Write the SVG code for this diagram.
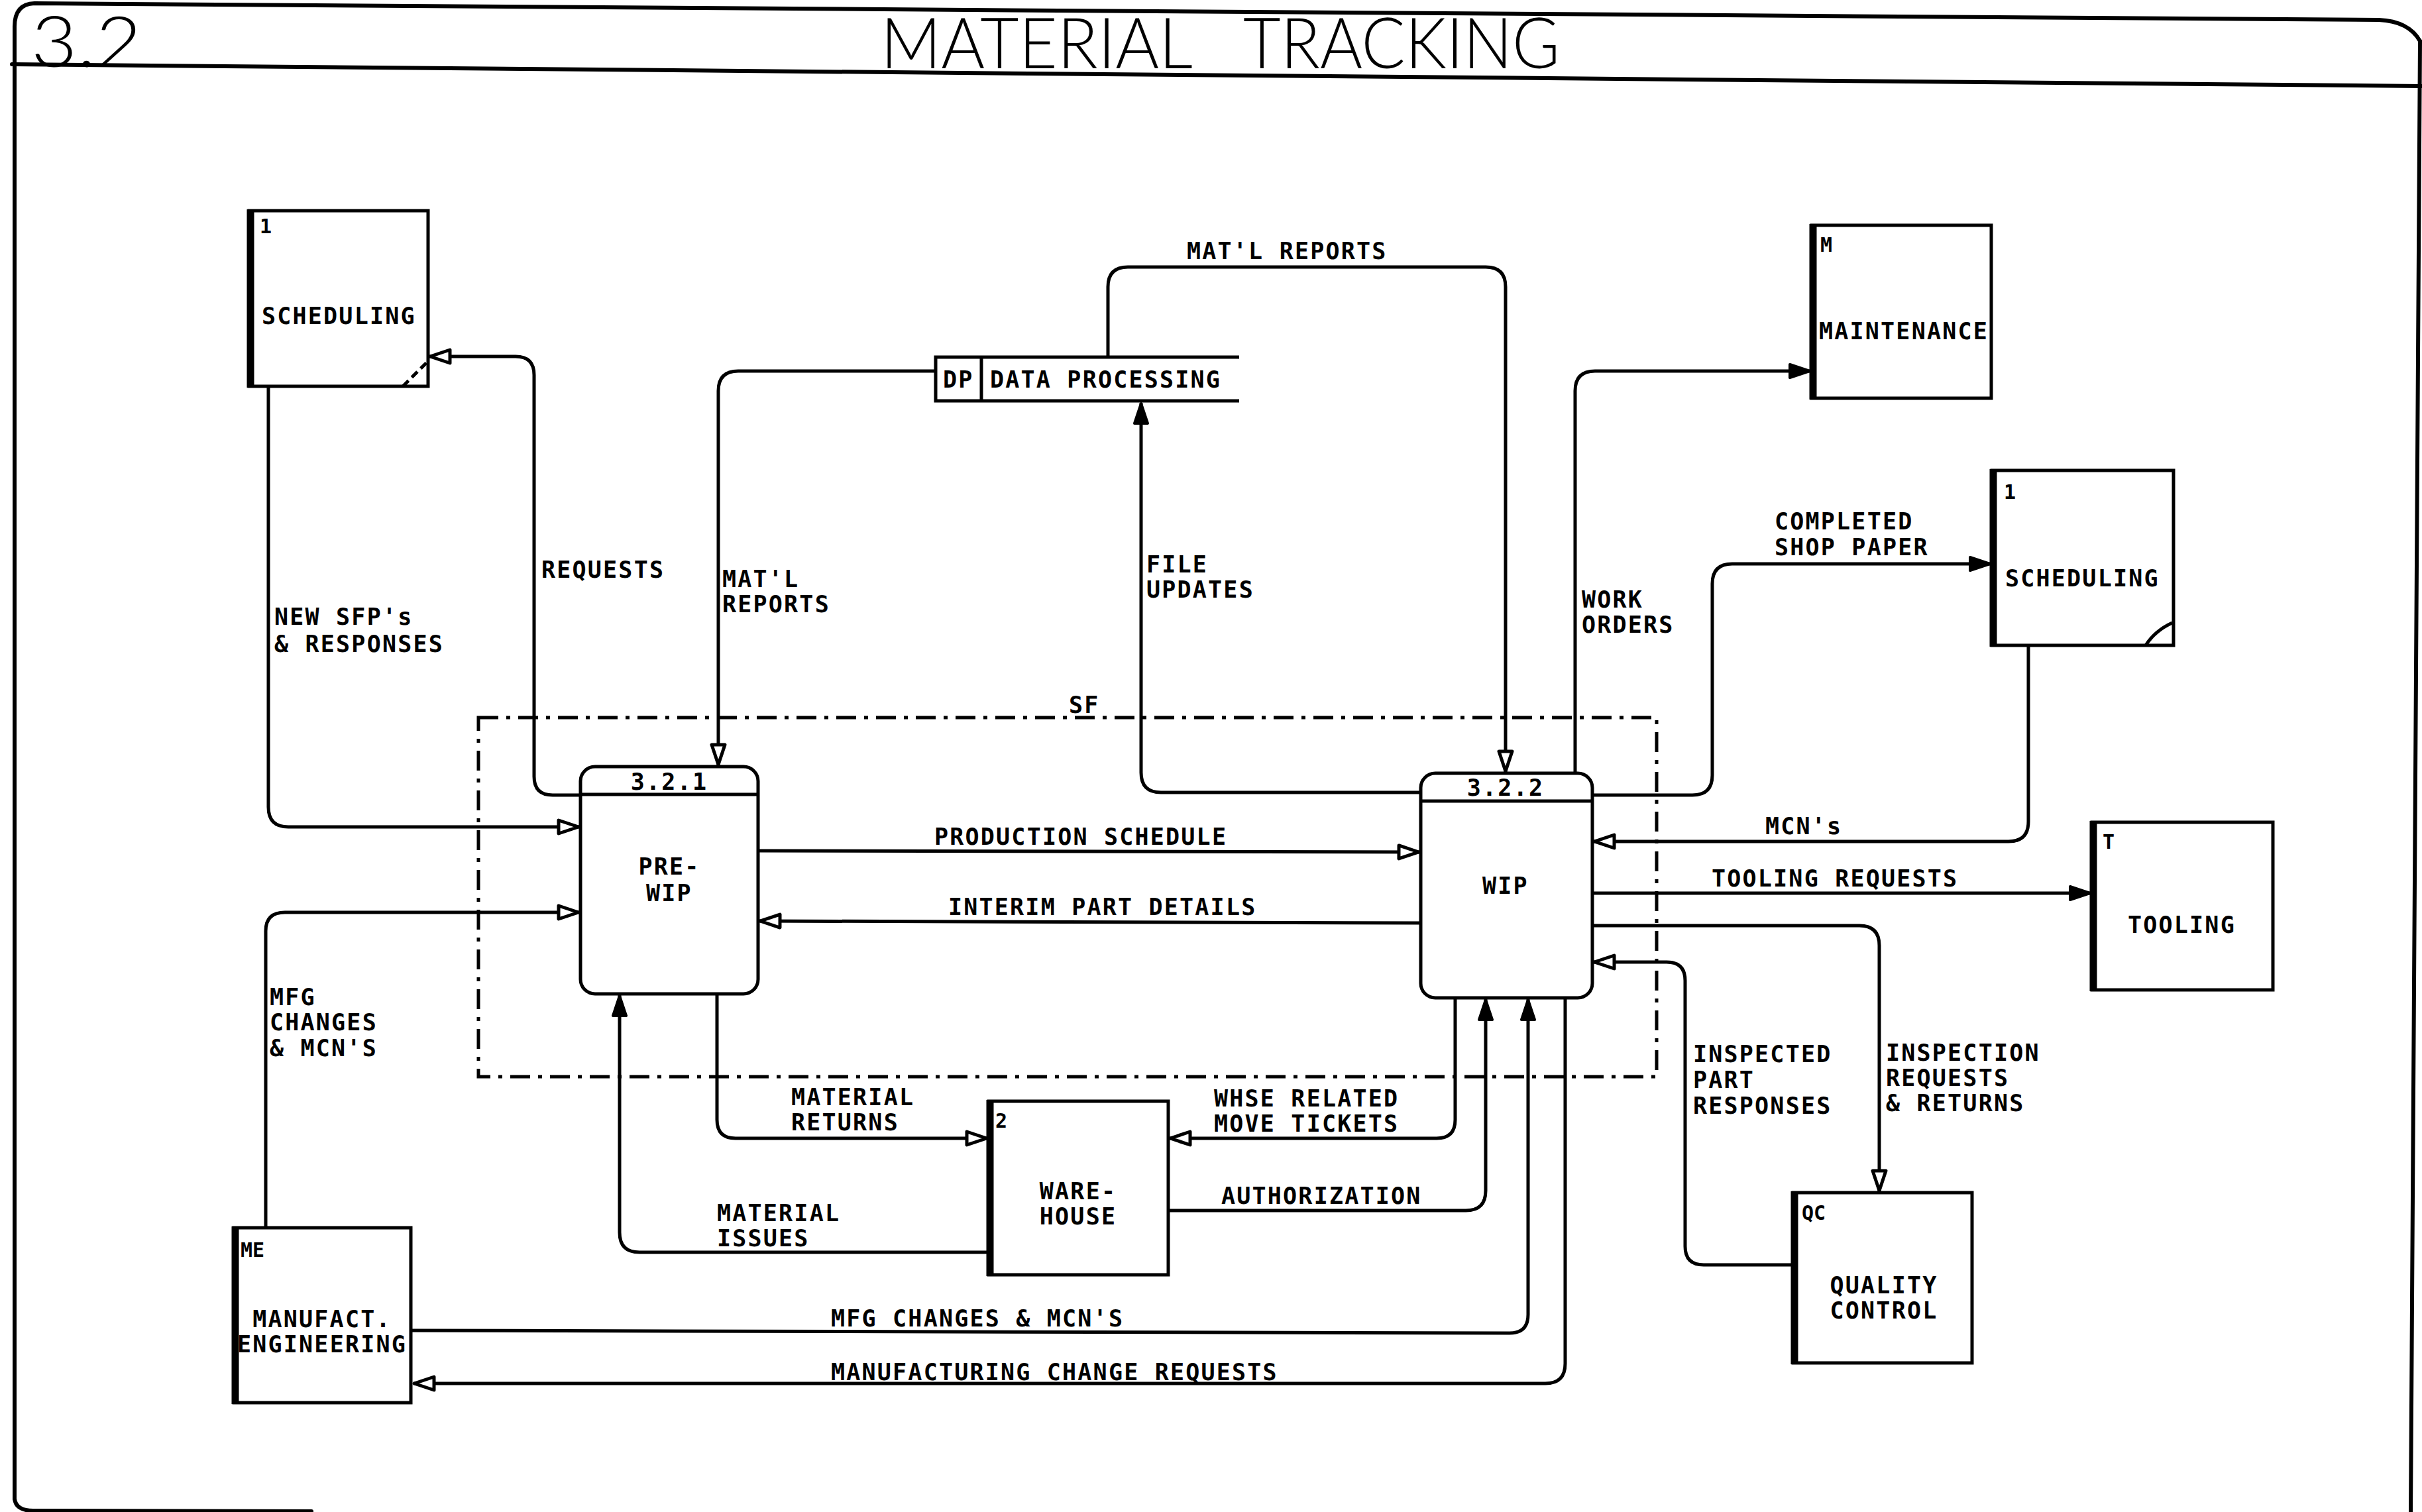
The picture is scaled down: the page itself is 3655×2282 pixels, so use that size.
<svg xmlns="http://www.w3.org/2000/svg" width="3655" height="2282" viewBox="0 0 3655 2282">
<style>
  .frame { fill: none; stroke: #000; stroke-width: 6; stroke-linecap: round; stroke-linejoin: round; }
  .box { fill: #fff; stroke: #000; stroke-width: 5; }
  .thick { stroke: #000; stroke-width: 11; fill: none; }
  .line { fill: none; stroke: #000; stroke-width: 5; }
  .conn { fill: none; stroke: #000; stroke-width: 5; stroke-linejoin: round; }
  .open { marker-end: url(#arrOpen); }
  .fill { marker-end: url(#arrFill); }
  .sf { fill: none; stroke: #000; stroke-width: 5; stroke-dasharray: 30 12 6 12; }
  .lbl { font-family: "DejaVu Sans Mono", "Liberation Mono", monospace; font-size: 35px; letter-spacing: 2.2px; font-weight: bold; fill: #000; }
  .id { font-family: "DejaVu Sans Mono", "Liberation Mono", monospace; font-size: 30px; font-weight: bold; fill: #000; }
  .mid { text-anchor: middle; }
  .title { font-family: "Lato", "Open Sans", "DejaVu Sans", sans-serif; font-weight: 300; font-size: 106px; fill: #000; }
</style>
<defs>
  <marker id="arrOpen" markerUnits="userSpaceOnUse" markerWidth="36" markerHeight="26" viewBox="0 0 36 26" refX="34" refY="13" orient="auto">
    <path d="M3,3 L33,13 L3,23 Z" fill="#fff" stroke="#000" stroke-width="5" stroke-linejoin="round"/>
  </marker>
  <marker id="arrFill" markerUnits="userSpaceOnUse" markerWidth="36" markerHeight="26" viewBox="0 0 36 26" refX="34" refY="13" orient="auto">
    <path d="M3,3 L33,13 L3,23 Z" fill="#000" stroke="#000" stroke-width="4" stroke-linejoin="round"/>
  </marker>
</defs>
<rect x="0" y="0" width="3655" height="2282" fill="#fff"/>

<!-- frame -->
<g id="frame">
  <path class="frame" d="M22,2262 L22,40 Q22,6 52,5 L3590,30 Q3635,32 3652,62"/>
  <path class="frame" d="M3652,62 L3638,2282"/>
  <path class="frame" d="M22,2262 Q24,2280 50,2280 L470,2281"/>
  <path class="frame" d="M18,97 L3655,130"/>
  <text class="title" x="47" y="101" textLength="167" lengthAdjust="spacingAndGlyphs">3.2</text>
  <text class="title" y="103"><tspan x="1329" textLength="471" lengthAdjust="spacingAndGlyphs">MATERIAL</tspan><tspan x="1876" textLength="478" lengthAdjust="spacingAndGlyphs">TRACKING</tspan></text>
</g>

<!-- SF boundary -->
<g id="sf-boundary">
  <rect class="sf" x="722" y="1083" width="1778" height="542"/>
  <text class="lbl" x="1613" y="1076">SF</text>
</g>

<!-- connectors -->
<g id="connectors">
  <path class="conn open" d="M876,1200 L834,1200 Q806,1200 806,1172 L806,566 Q806,538 778,538 L648,538"/>
  <path class="conn open" d="M405,583 L405,1218 Q405,1248 435,1248 L874,1248"/>
  <path class="conn open" d="M401,1853 L401,1405 Q401,1377 430,1377 L874,1377"/>
  <path class="conn open" d="M1412,560 L1114,560 Q1084,560 1084,590 L1084,1155"/>
  <path class="conn open" d="M1672,539 L1672,433 Q1672,403 1702,403 L2242,403 Q2272,403 2272,433 L2272,1165"/>
  <path class="conn fill" d="M2144,1196 L1752,1196 Q1722,1196 1722,1166 L1722,608"/>
  <path class="conn open" d="M1146,1284 L2142,1286"/>
  <path class="conn open" d="M2142,1393 L1146,1390"/>
  <path class="conn fill" d="M2377,1167 L2377,590 Q2377,560 2407,560 L2732,560"/>
  <path class="conn fill" d="M2403,1200 L2554,1200 Q2584,1200 2584,1170 L2584,881 Q2584,851 2614,851 L3004,851"/>
  <path class="conn open" d="M3061,974 L3061,1240 Q3061,1270 3031,1270 L2405,1270"/>
  <path class="conn fill" d="M2403,1348 L3155,1348"/>
  <path class="conn open" d="M2403,1397 L2806,1397 Q2836,1397 2836,1427 L2836,1798"/>
  <path class="conn open" d="M2706,1909 L2571,1909 Q2543,1909 2543,1881 L2543,1480 Q2543,1452 2515,1452 L2405,1452"/>
  <path class="conn open" d="M1082,1500 L1082,1690 Q1082,1718 1110,1718 L1490,1718"/>
  <path class="conn fill" d="M1492,1890 L965,1890 Q935,1890 935,1860 L935,1502"/>
  <path class="conn open" d="M2196,1506 L2196,1690 Q2196,1718 2168,1718 L1765,1718"/>
  <path class="conn fill" d="M1765,1827 L2212,1827 Q2242,1827 2242,1797 L2242,1508"/>
  <path class="conn fill" d="M622,2008 L2278,2012 Q2306,2012 2306,1984 L2306,1508"/>
  <path class="conn open" d="M2362,1506 L2362,2058 Q2362,2088 2332,2088 L624,2088"/>

  <text class="lbl"><tspan x="414" y="943">NEW SFP's</tspan><tspan x="414" y="984">&amp; RESPONSES</tspan></text>
  <text class="lbl" x="817" y="872">REQUESTS</text>
  <text class="lbl"><tspan x="1090" y="886">MAT'L</tspan><tspan x="1090" y="924">REPORTS</tspan></text>
  <text class="lbl" x="1791" y="391">MAT'L REPORTS</text>
  <text class="lbl"><tspan x="1730" y="864">FILE</tspan><tspan x="1730" y="902">UPDATES</tspan></text>
  <text class="lbl"><tspan x="2387" y="917">WORK</tspan><tspan x="2387" y="955">ORDERS</tspan></text>
  <text class="lbl"><tspan x="2678" y="799">COMPLETED</tspan><tspan x="2678" y="838">SHOP PAPER</tspan></text>
  <text class="lbl" x="2664" y="1259">MCN's</text>
  <text class="lbl" x="2583" y="1338">TOOLING REQUESTS</text>
  <text class="lbl" x="1410" y="1275">PRODUCTION SCHEDULE</text>
  <text class="lbl" x="1431" y="1381">INTERIM PART DETAILS</text>
  <text class="lbl"><tspan x="2555" y="1603">INSPECTED</tspan><tspan x="2555" y="1642">PART</tspan><tspan x="2555" y="1681">RESPONSES</tspan></text>
  <text class="lbl"><tspan x="2846" y="1601">INSPECTION</tspan><tspan x="2846" y="1639">REQUESTS</tspan><tspan x="2846" y="1677">&amp; RETURNS</tspan></text>
  <text class="lbl"><tspan x="407" y="1517">MFG</tspan><tspan x="407" y="1555">CHANGES</tspan><tspan x="407" y="1594">&amp; MCN'S</tspan></text>
  <text class="lbl"><tspan x="1194" y="1668">MATERIAL</tspan><tspan x="1194" y="1706">RETURNS</tspan></text>
  <text class="lbl"><tspan x="1832" y="1670">WHSE RELATED</tspan><tspan x="1832" y="1708">MOVE TICKETS</tspan></text>
  <text class="lbl"><tspan x="1082" y="1843">MATERIAL</tspan><tspan x="1082" y="1881">ISSUES</tspan></text>
  <text class="lbl" x="1843" y="1817">AUTHORIZATION</text>
  <text class="lbl" x="1254" y="2002">MFG CHANGES &amp; MCN'S</text>
  <text class="lbl" x="1254" y="2083">MANUFACTURING CHANGE REQUESTS</text>
</g>

<!-- nodes -->
<g id="scheduling-1">
  <rect class="box" x="376" y="318" width="270" height="265"/>
  <line class="thick" x1="378" y1="316" x2="378" y2="585"/>
  <line class="line" x1="608" y1="583" x2="646" y2="545" stroke-dasharray="12 7"/>
  <text class="id" x="392" y="352">1</text>
  <text class="lbl" x="395" y="489">SCHEDULING</text>
</g>

<g id="data-processing">
  <path class="line" d="M1870,539 L1412,539 L1412,605 L1870,605"/>
  <line class="line" x1="1481" y1="539" x2="1481" y2="605"/>
  <text class="lbl" x="1423" y="585">DP</text>
  <text class="lbl" x="1494" y="585">DATA PROCESSING</text>
</g>

<g id="maintenance">
  <rect class="box" x="2734" y="340" width="271" height="261"/>
  <line class="thick" x1="2736" y1="338" x2="2736" y2="603"/>
  <text class="id" x="2747" y="380">M</text>
  <text class="lbl" x="2745" y="512">MAINTENANCE</text>
</g>

<g id="scheduling-2">
  <rect class="box" x="3006" y="710" width="274" height="264"/>
  <line class="thick" x1="3008" y1="708" x2="3008" y2="976"/>
  <path class="line" d="M3238,974 Q3252,952 3278,940"/>
  <text class="id" x="3024" y="753">1</text>
  <text class="lbl" x="3026" y="885">SCHEDULING</text>
</g>

<g id="tooling">
  <rect class="box" x="3157" y="1241" width="273" height="253"/>
  <line class="thick" x1="3159" y1="1239" x2="3159" y2="1496"/>
  <text class="id" x="3173" y="1281">T</text>
  <text class="lbl" x="3211" y="1408">TOOLING</text>
</g>

<g id="pre-wip">
  <rect class="box" x="876" y="1157" width="268" height="343" rx="22"/>
  <line class="line" x1="876" y1="1199" x2="1144" y2="1199"/>
  <text class="lbl mid" x="1010" y="1192">3.2.1</text>
  <text class="lbl mid"><tspan x="1010" y="1320">PRE-</tspan><tspan x="1010" y="1360">WIP</tspan></text>
</g>

<g id="wip">
  <rect class="box" x="2144" y="1167" width="259" height="339" rx="22"/>
  <line class="line" x1="2144" y1="1209" x2="2403" y2="1209"/>
  <text class="lbl mid" x="2272" y="1201">3.2.2</text>
  <text class="lbl mid" x="2272" y="1349">WIP</text>
</g>

<g id="warehouse">
  <rect class="box" x="1492" y="1662" width="271" height="262"/>
  <line class="thick" x1="1494" y1="1660" x2="1494" y2="1926"/>
  <text class="id" x="1502" y="1702">2</text>
  <text class="lbl mid"><tspan x="1627" y="1810">WARE-</tspan><tspan x="1627" y="1848">HOUSE</tspan></text>
</g>

<g id="quality-control">
  <rect class="box" x="2706" y="1800" width="270" height="257"/>
  <line class="thick" x1="2708" y1="1798" x2="2708" y2="2059"/>
  <text class="id" x="2719" y="1841">QC</text>
  <text class="lbl mid"><tspan x="2843" y="1952">QUALITY</tspan><tspan x="2843" y="1990">CONTROL</tspan></text>
</g>

<g id="manufact-engineering">
  <rect class="box" x="353" y="1853" width="267" height="264"/>
  <line class="thick" x1="355" y1="1851" x2="355" y2="2119"/>
  <text class="id" x="363" y="1897">ME</text>
  <text class="lbl mid"><tspan x="486" y="2003">MANUFACT.</tspan><tspan x="486" y="2041">ENGINEERING</tspan></text>
</g>
</svg>
